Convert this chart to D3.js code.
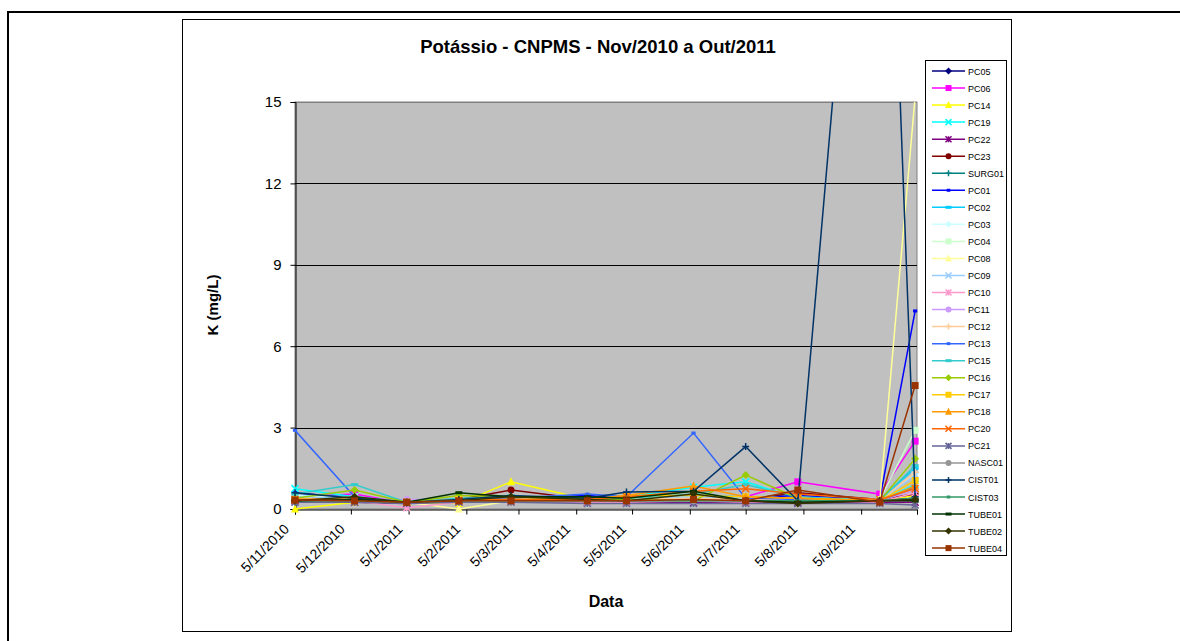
<!DOCTYPE html>
<html>
<head>
<meta charset="utf-8">
<script src="https://cdn.jsdelivr.net/npm/d3@7"></script>
<style>
  body { margin: 0; background: #fff; }
  svg { display: block; font-family: "Liberation Sans", Arial, sans-serif; }
</style>
</head>
<body>
<svg id="chart" width="1180" height="641"></svg>
<script>
// ---------- data ----------
const dates = ["2010-11-05","2010-12-07","2011-01-04","2011-02-01","2011-03-01","2011-04-11",
               "2011-05-02","2011-06-07","2011-07-05","2011-08-02","2011-09-15","2011-10-04"];
const seriesNames = ["PC05","PC06","PC14","PC19","PC22","PC23","SURG01","PC01","PC02","PC03","PC04",
  "PC08","PC09","PC10","PC11","PC12","PC13","PC15","PC16","PC17","PC18","PC20","PC21","NASC01",
  "CIST01","CIST03","TUBE01","TUBE02","TUBE04"];
const PC05   = [0.35,0.30,0.25,0.30,0.35,0.30,0.30,0.35,0.30,0.35,0.30,0.40];
const PC06   = [0.45,0.55,0.20,0.30,0.35,0.30,0.35,0.40,0.45,1.00,0.55,2.50];
const PC14   = [0.00,0.25,0.25,0.20,1.00,0.35,0.35,0.40,0.30,0.30,0.30,0.50];
const PC19   = [0.75,0.45,0.25,0.35,0.40,0.35,0.45,0.80,1.00,0.40,0.30,0.90];
const PC22   = [0.30,0.25,0.20,0.30,0.30,0.25,0.25,0.25,0.25,0.25,0.25,0.25];
const PC23   = [0.30,0.30,0.25,0.35,0.70,0.35,0.30,0.35,0.35,0.60,0.35,0.55];
const SURG01 = [0.30,0.35,0.25,0.35,0.35,0.30,0.30,0.35,0.30,0.30,0.30,0.40];
const PC01   = [0.60,0.40,0.25,0.35,0.40,0.50,0.40,0.45,0.40,0.50,0.35,7.30];
const PC02   = [0.50,0.45,0.25,0.35,0.40,0.40,0.40,0.50,0.45,0.40,0.35,1.50];
const PC03   = [0.50,0.40,0.25,0.30,0.35,0.35,0.35,0.40,0.40,0.40,0.30,1.30];
const PC04   = [0.40,0.45,0.25,0.35,0.40,0.35,0.40,0.45,0.45,0.40,0.35,2.90];
const PC08   = [0.45,0.40,0.25,0.00,0.30,0.30,0.35,0.40,0.35,0.35,0.30,15.2];
const PC09   = [0.45,0.40,0.25,0.35,0.35,0.30,0.35,0.45,0.40,0.35,0.30,1.25];
const PC10   = [0.35,0.30,0.05,0.25,0.30,0.25,0.25,0.30,0.25,0.30,0.25,0.60];
const PC11   = [0.35,0.35,0.35,0.35,0.35,0.30,0.30,0.35,0.30,0.30,0.30,0.70];
const PC12   = [0.40,0.35,0.25,0.35,0.35,0.30,0.35,0.40,0.35,0.35,0.30,1.35];
const PC13   = [2.90,0.45,0.25,0.35,0.40,0.55,0.45,2.80,0.40,0.35,0.30,0.80];
const PC15   = [0.55,0.90,0.25,0.40,0.45,0.40,0.40,0.55,0.90,0.45,0.30,1.60];
const PC16   = [0.40,0.70,0.25,0.50,0.45,0.35,0.35,0.30,1.25,0.40,0.30,1.85];
const PC17   = [0.35,0.35,0.25,0.35,0.35,0.35,0.50,0.50,0.45,0.40,0.30,1.05];
const PC18   = [0.35,0.35,0.25,0.30,0.35,0.35,0.50,0.85,0.45,0.40,0.30,0.85];
const PC20   = [0.35,0.35,0.25,0.30,0.35,0.35,0.45,0.65,0.75,0.55,0.35,0.75];
const PC21   = [0.25,0.25,0.20,0.25,0.25,0.20,0.20,0.20,0.20,0.20,0.20,0.15];
const NASC01 = [0.30,0.30,0.25,0.30,0.30,0.30,0.30,0.30,0.30,0.30,0.30,0.35];
const CIST01 = [0.60,0.40,0.25,0.35,0.50,0.40,0.63,0.65,2.30,0.30,35.0,0.45];
const CIST03 = [0.30,0.30,0.25,0.30,0.30,0.30,0.30,0.30,0.30,0.30,0.30,0.40];
const TUBE01 = [0.30,0.35,0.25,0.60,0.45,0.45,0.40,0.65,0.30,0.25,0.30,0.30];
const TUBE02 = [0.30,0.45,0.25,0.30,0.45,0.35,0.30,0.55,0.30,0.20,0.30,0.35];
const TUBE04 = [0.33,0.30,0.25,0.30,0.30,0.30,0.30,0.35,0.30,0.70,0.25,4.55];
const seriesValues = [PC05,PC06,PC14,PC19,PC22,PC23,SURG01,PC01,PC02,PC03,PC04,PC08,PC09,PC10,
  PC11,PC12,PC13,PC15,PC16,PC17,PC18,PC20,PC21,NASC01,CIST01,CIST03,TUBE01,TUBE02,TUBE04];
const yTicks = [0,3,6,9,12,15];
const xTickDates = ["2010-11-05","2010-12-05","2011-01-05","2011-02-05","2011-03-05","2011-04-05",
  "2011-05-05","2011-06-05","2011-07-05","2011-08-05","2011-09-05","2011-10-05"];
const xTickLabels = ["5/11/2010","5/12/2010","5/1/2011","5/2/2011","5/3/2011","5/4/2011",
  "5/5/2011","5/6/2011","5/7/2011","5/8/2011","5/9/2011",""];
const colors = ["#000080","#FF00FF","#FFFF00","#00FFFF","#800080","#800000","#008080","#0000FF",
  "#00CCFF","#CCFFFF","#CCFFCC","#FFFF99","#99CCFF","#FF99CC","#CC99FF","#FFCC99","#3366FF",
  "#33CCCC","#99CC00","#FFCC00","#FF9900","#FF6600","#666699","#969696","#003366","#339966",
  "#003300","#333300","#993300"];
const markerTypes = ["diamond","square","triangle","x","star","circle","plus","dash","longdash"];

// ---------- layout ----------
const svg = d3.select("#chart");
const parse = d3.timeParse("%Y-%m-%d");
const L = 295, R = 917, T = 102, B = 509;

svg.append("rect").attr("x",8).attr("y",12).attr("width",1200).attr("height",700)
  .attr("fill","none").attr("stroke","#000").attr("stroke-width",2);
svg.append("rect").attr("x",182.5).attr("y",19.5).attr("width",829).attr("height",612)
  .attr("fill","#fff").attr("stroke","#000").attr("stroke-width",1);

const x = d3.scaleTime().domain([parse("2010-11-05"), parse("2011-10-05")]).range([L, R]);
const y = d3.scaleLinear().domain([0,15]).range([B, T]);

// plot area
svg.append("rect").attr("x",L).attr("y",T).attr("width",R-L).attr("height",B-T)
  .attr("fill","#C0C0C0").attr("stroke","#808080").attr("stroke-width",1);

// gridlines
svg.append("g").selectAll("line").data(yTicks.filter(d=>d>0)).join("line")
  .attr("x1",L).attr("x2",R).attr("y1",d=>Math.round(y(d))+0.5).attr("y2",d=>Math.round(y(d))+0.5)
  .attr("stroke",d=>d===15?"#808080":"#000").attr("stroke-width",1);

// y axis
const yAxis = svg.append("g").attr("transform",`translate(${L+0.5},0)`)
  .call(d3.axisLeft(y).tickValues(yTicks).tickSize(5).tickPadding(9).tickFormat(d3.format("d")));
yAxis.select(".domain").attr("stroke","#000");
yAxis.selectAll("text").attr("font-size",15).attr("fill","#000")
  .attr("font-family","'Liberation Sans', Arial, sans-serif");

// x axis
const xAxis = svg.append("g").attr("transform",`translate(0,${B+0.5})`)
  .call(d3.axisBottom(x).tickValues(xTickDates.map(parse)).tickSize(5).tickFormat((d,i)=>xTickLabels[i]));
xAxis.select(".domain").attr("stroke","#000");
xAxis.selectAll("text")
  .attr("font-size",14).attr("fill","#000")
  .attr("font-family","'Liberation Sans', Arial, sans-serif")
  .attr("text-anchor","end")
  .attr("transform","translate(-9,17) rotate(-45)")
  .attr("dy","0.35em").attr("y",0).attr("x",0);

// titles
svg.append("text").attr("x",598).attr("y",53).attr("text-anchor","middle")
  .attr("font-size",18.5).attr("font-weight","bold").text("Potássio - CNPMS - Nov/2010 a Out/2011");
svg.append("text").attr("x",606).attr("y",607).attr("text-anchor","middle")
  .attr("font-size",16).attr("font-weight","bold").text("Data");
svg.append("text").attr("transform","translate(218,305) rotate(-90)").attr("text-anchor","middle")
  .attr("font-size",15).attr("font-weight","bold").text("K (mg/L)");

// marker drawing
function drawMarker(g, type, color, s) {
  const h = s/2;
  switch(type) {
    case "diamond": g.append("path").attr("d",`M0,${-h-0.5}L${h+0.5},0L0,${h+0.5}L${-h-0.5},0Z`).attr("fill",color); break;
    case "square": g.append("rect").attr("x",-h).attr("y",-h).attr("width",s).attr("height",s).attr("fill",color); break;
    case "triangle": g.append("path").attr("d",`M0,${-h-1}L${h+0.5},${h}L${-h-0.5},${h}Z`).attr("fill",color); break;
    case "x": g.append("path").attr("d",`M${-h},${-h}L${h},${h}M${-h},${h}L${h},${-h}`).attr("stroke",color).attr("stroke-width",1.5); break;
    case "star": g.append("path").attr("d",`M${-h},${-h}L${h},${h}M${-h},${h}L${h},${-h}M0,${-h}L0,${h}`).attr("stroke",color).attr("stroke-width",1.5); break;
    case "circle": g.append("circle").attr("r",h).attr("fill",color); break;
    case "plus": g.append("path").attr("d",`M${-h},0L${h},0M0,${-h}L0,${h}`).attr("stroke",color).attr("stroke-width",1.5); break;
    case "dash": g.append("rect").attr("x",-h*0.6).attr("y",-1.5).attr("width",s*0.6).attr("height",3).attr("fill",color); break;
    case "longdash": g.append("rect").attr("x",-h).attr("y",-1.5).attr("width",s).attr("height",3).attr("fill",color); break;
  }
}

// series
svg.append("clipPath").attr("id","plotclip").append("rect")
  .attr("x",L-6).attr("y",T).attr("width",R-L+12).attr("height",B-T+6);
const plot = svg.append("g").attr("clip-path","url(#plotclip)");
svg.append("clipPath").attr("id","lineclip").append("rect")
  .attr("x",L).attr("y",T).attr("width",R-L+2).attr("height",B-T+4);
const line = d3.line().x(d=>x(d.date)).y(d=>y(d.v));
seriesNames.forEach((name,i)=>{
  const pts = dates.map((d,j)=>({date:parse(d), v:seriesValues[i][j]}));
  const g = plot.append("g");
  g.append("path").datum(pts).attr("d",line).attr("fill","none")
    .attr("stroke",colors[i]).attr("stroke-width",1.5).attr("clip-path","url(#lineclip)");
  pts.filter(p=>p.v<=15.3).forEach(p=>{
    const m = g.append("g").attr("transform",`translate(${x(p.date)},${y(p.v)})`);
    drawMarker(m, markerTypes[i % markerTypes.length], colors[i], 7);
  });
});

// legend
const lg = svg.append("g");
lg.append("rect").attr("x",925.5).attr("y",60.5).attr("width",81).attr("height",495)
  .attr("fill","#fff").attr("stroke","#000").attr("stroke-width",1);
seriesNames.forEach((name,i)=>{
  const yy = 71 + i*17.04;
  const g = lg.append("g").attr("transform",`translate(0,${yy})`);
  g.append("line").attr("x1",932).attr("x2",965).attr("y1",0).attr("y2",0)
    .attr("stroke",colors[i]).attr("stroke-width",1.5);
  const m = g.append("g").attr("transform","translate(948.5,0)");
  drawMarker(m, markerTypes[i % markerTypes.length], colors[i], 6);
  g.append("text").attr("x",968).attr("y",3.5).attr("font-size",9).attr("fill","#000").text(name);
});
</script>
</body>
</html>
